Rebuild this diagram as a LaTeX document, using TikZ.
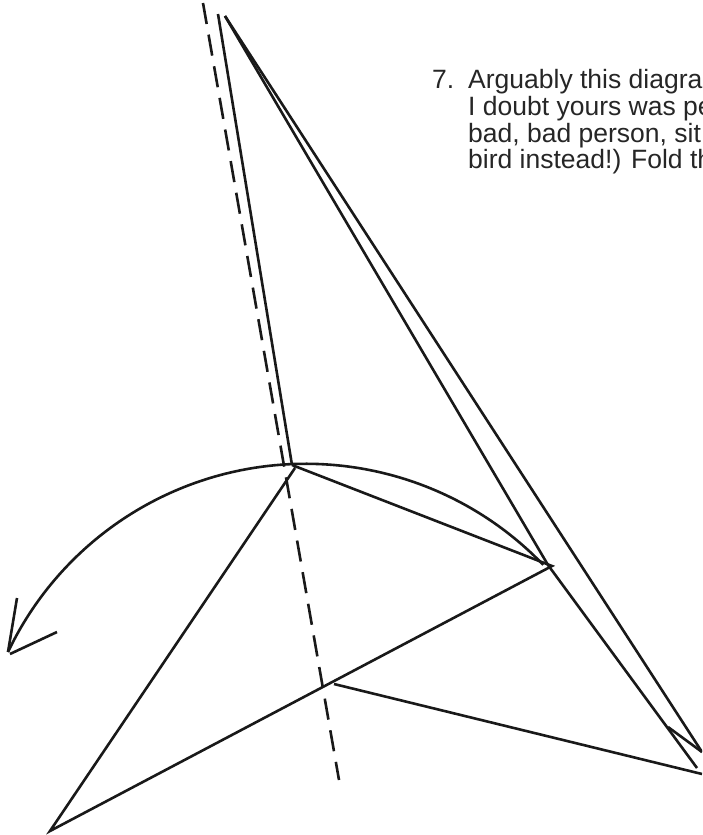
\documentclass[tikz,border=0pt]{standalone}
\usepackage{fontspec}
\setmainfont{Liberation Sans}
\tikzset{
  foldline/.style={line width=2.6pt,color=black!90,line cap=butt,line join=miter},
  valley/.style={foldline,dash pattern=on 21.3pt off 10.8pt},
  stext/.style={anchor=base west,inner sep=0pt,font=\fontsize{26.5}{26.5}\selectfont,text=black!85}
}
\begin{document}
\begin{tikzpicture}[x=1pt,y=-1pt]
\useasboundingbox (0,0) rectangle (702,835);
\clip (0,0) rectangle (702,835);
\coordinate (T1) at (218,14);
\coordinate (T2) at (225,16);
\coordinate (C) at (292,465);
\coordinate (R) at (552,566);
\coordinate (F) at (548,565);
\coordinate (B) at (50,831);
\coordinate (M) at (295,468);
\coordinate (K) at (334,684);
\coordinate (E) at (697,768);
\coordinate (S1) at (668,727);
\coordinate (S2) at (702,752);
\coordinate (S3) at (702,774);
\coordinate (D1) at (203,3);
\coordinate (D2) at (339,780);
\coordinate (A0) at (8,652);
\coordinate (A1) at (17,598);
\coordinate (A2) at (10,654);
\coordinate (A3) at (57,632);
\draw[valley] (D1) -- (D2);
\draw[foldline] (T1) -- (C);
\draw[foldline] (C) -- (R) -- (B) -- (M);
\draw[foldline] (T2) -- (F) -- (E);
\draw[foldline] (T2) -- (S2);
\draw[foldline] (S1) -- (S2);
\draw[foldline] (K) -- (S3);
\draw[foldline] (A0) arc[start angle=-154.6,end angle=-43.9,radius=329.6];
\draw[foldline] (A0) -- (A1);
\draw[foldline] (A2) -- (A3);
\node[stext] (n7) at (432,88.5) {7.};
\node[stext] (l1) at (468,88.5) {Arguably this diagra};
\node[stext] (l2) at (468,115.3) {I doubt yours was pe};
\node[stext] (l3) at (468,142) {bad, bad person, sit};
\node[stext] (l4) at (468,168.7) {bird instead!) Fold th};
\end{tikzpicture}
\end{document}
